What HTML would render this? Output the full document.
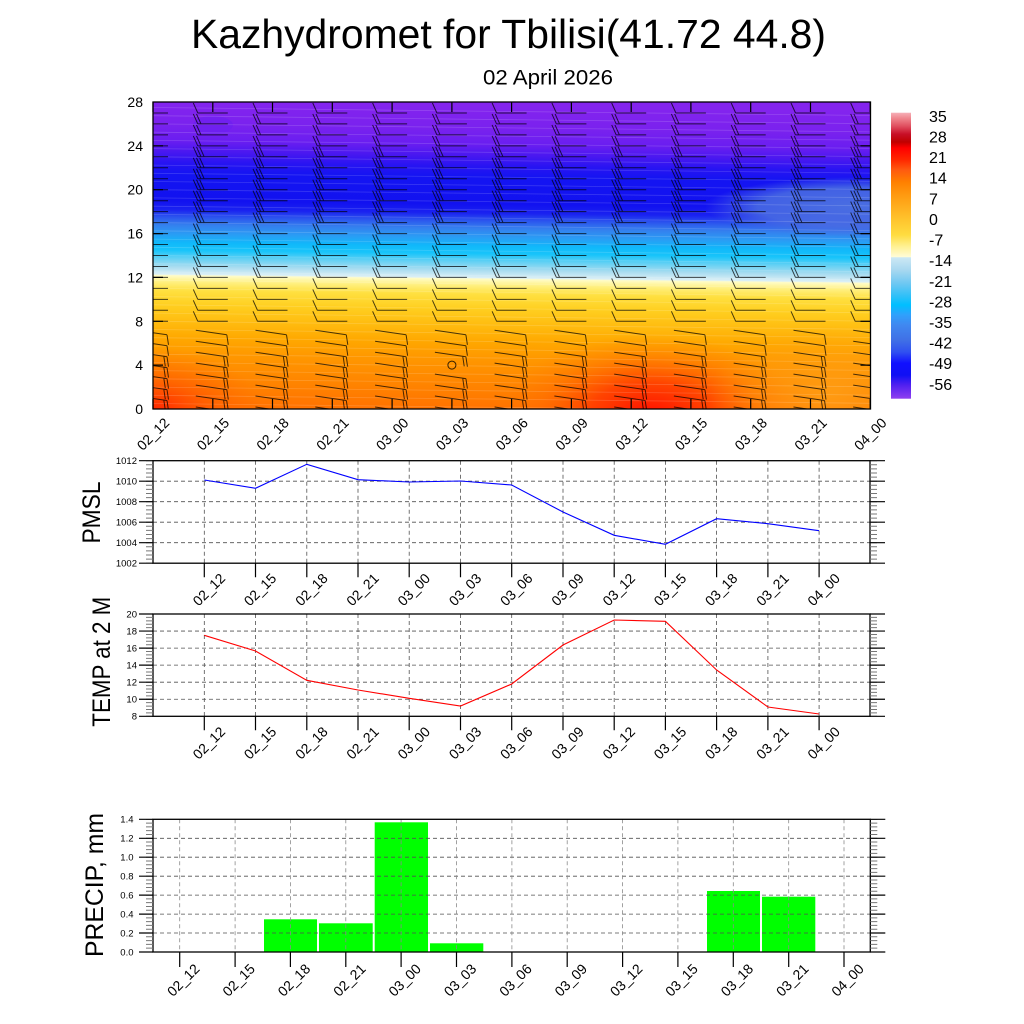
<!DOCTYPE html>
<html><head><meta charset="utf-8"><style>
html,body{margin:0;padding:0;background:#fff;}
svg{display:block;font-family:"Liberation Sans",Arial,sans-serif;}
.xl{font-size:14px;text-anchor:middle;fill:#000}
.yl{font-size:14px;text-anchor:end;fill:#000}
.sl{font-size:9.5px;text-anchor:end;fill:#000}
.cb{font-size:16px;fill:#000}
.grid{stroke:#505050;stroke-width:0.8;stroke-dasharray:4 3;fill:none}
.gridv{stroke:#8a8a8a;stroke-width:0.8;stroke-dasharray:4 3;fill:none}
.tk{stroke:#000;stroke-width:1.2;fill:none}
</style></head><body>
<svg width="1024" height="1024" viewBox="0 0 1024 1024" xmlns="http://www.w3.org/2000/svg">
<defs>
 <linearGradient id="fld" gradientUnits="userSpaceOnUse" x1="0" y1="102" x2="0" y2="409" gradientTransform="skewY(0.64) translate(0,-1.7)">
  <stop offset="0" stop-color="#8424ee"/>
  <stop offset="0.0714" stop-color="#7a22ee"/>
  <stop offset="0.125" stop-color="#6a1ef0"/>
  <stop offset="0.1607" stop-color="#4a18f0"/>
  <stop offset="0.1964" stop-color="#2814f2"/>
  <stop offset="0.2321" stop-color="#1414f2"/>
  <stop offset="0.3214" stop-color="#1212f0"/>
  <stop offset="0.35" stop-color="#1a22f0"/>
  <stop offset="0.3714" stop-color="#2a50ee"/>
  <stop offset="0.4" stop-color="#3480ee"/>
  <stop offset="0.4286" stop-color="#2a9cf4"/>
  <stop offset="0.4571" stop-color="#10b8fa"/>
  <stop offset="0.4821" stop-color="#18c4fa"/>
  <stop offset="0.5071" stop-color="#60d0f4"/>
  <stop offset="0.5357" stop-color="#a8dcf0"/>
  <stop offset="0.5607" stop-color="#dcf0f6"/>
  <stop offset="0.5643" stop-color="#fffcc8"/>
  <stop offset="0.5857" stop-color="#fff080"/>
  <stop offset="0.6143" stop-color="#ffe040"/>
  <stop offset="0.6607" stop-color="#ffcf20"/>
  <stop offset="0.7143" stop-color="#ffbc10"/>
  <stop offset="0.7679" stop-color="#ffa800"/>
  <stop offset="0.8214" stop-color="#ff9800"/>
  <stop offset="0.8929" stop-color="#ff8800"/>
  <stop offset="0.9464" stop-color="#ff7c00"/>
  <stop offset="1" stop-color="#ff7000"/>
 </linearGradient>
 <radialGradient id="red1">
  <stop offset="0" stop-color="#ff1000" stop-opacity="1"/>
  <stop offset="0.4" stop-color="#ff3000" stop-opacity="0.75"/>
  <stop offset="0.75" stop-color="#ff6000" stop-opacity="0.3"/>
  <stop offset="1" stop-color="#ff7000" stop-opacity="0"/>
 </radialGradient>
 <radialGradient id="red2">
  <stop offset="0" stop-color="#ff2000" stop-opacity="1"/>
  <stop offset="0.5" stop-color="#ff4a00" stop-opacity="0.5"/>
  <stop offset="1" stop-color="#ff6000" stop-opacity="0"/>
 </radialGradient>
 <radialGradient id="or1">
  <stop offset="0" stop-color="#ffa418" stop-opacity="0.75"/>
  <stop offset="1" stop-color="#ffa418" stop-opacity="0"/>
 </radialGradient>
 <radialGradient id="st1">
  <stop offset="0" stop-color="#4a6ee2" stop-opacity="1"/>
  <stop offset="0.65" stop-color="#4a6ee2" stop-opacity="0.85"/>
  <stop offset="1" stop-color="#4a6ee2" stop-opacity="0"/>
 </radialGradient>
 <linearGradient id="cbg" x1="0" y1="0" x2="0" y2="1">
  <stop offset="0" stop-color="#f6b0b8"/>
  <stop offset="0.0185" stop-color="#f08890"/>
  <stop offset="0.0465" stop-color="#e05060"/>
  <stop offset="0.0745" stop-color="#c81028"/>
  <stop offset="0.1024" stop-color="#c00000"/>
  <stop offset="0.1234" stop-color="#ff0000"/>
  <stop offset="0.1654" stop-color="#ff2800"/>
  <stop offset="0.2003" stop-color="#ff5a10"/>
  <stop offset="0.2423" stop-color="#ff8000"/>
  <stop offset="0.2878" stop-color="#ff9a10"/>
  <stop offset="0.3332" stop-color="#ffb020"/>
  <stop offset="0.3822" stop-color="#ffc830"/>
  <stop offset="0.4276" stop-color="#ffdc40"/>
  <stop offset="0.466" stop-color="#fff090"/>
  <stop offset="0.5045" stop-color="#fffcd8"/>
  <stop offset="0.5063" stop-color="#cce8f4"/>
  <stop offset="0.55" stop-color="#a8d8f0"/>
  <stop offset="0.5955" stop-color="#70c8f2"/>
  <stop offset="0.641" stop-color="#30c0f8"/>
  <stop offset="0.6724" stop-color="#00bfff"/>
  <stop offset="0.7073" stop-color="#30a0fc"/>
  <stop offset="0.7423" stop-color="#4088f0"/>
  <stop offset="0.7948" stop-color="#4070e6"/>
  <stop offset="0.8368" stop-color="#3050f0"/>
  <stop offset="0.8759" stop-color="#1010ff"/>
  <stop offset="0.9175" stop-color="#1010f4"/>
  <stop offset="0.9524" stop-color="#5020f0"/>
  <stop offset="1" stop-color="#9040f0"/>
 </linearGradient>
 <clipPath id="cp"><rect x="153" y="102" width="717.5" height="307"/></clipPath>
</defs>

<!-- Titles -->
<text x="191" y="48" font-size="41" textLength="635" lengthAdjust="spacingAndGlyphs">Kazhydromet for Tbilisi(41.72 44.8)</text>
<text x="483" y="84.3" font-size="21" textLength="130" lengthAdjust="spacingAndGlyphs">02 April 2026</text>

<!-- Top field panel -->
<g clip-path="url(#cp)">
 <rect x="153" y="102" width="717.5" height="307" fill="url(#fld)"/>
 <ellipse cx="650" cy="414" rx="150" ry="80" fill="url(#red1)"/>
 <ellipse cx="153" cy="412" rx="110" ry="65" fill="url(#red2)"/>
 <ellipse cx="830" cy="395" rx="120" ry="70" fill="url(#or1)"/>
 <ellipse cx="855" cy="207" rx="150" ry="30" fill="url(#st1)"/>
 <ellipse cx="213" cy="125" rx="20" ry="9" fill="#6a20f0" opacity="0.6"/>
 <g id="cont" stroke="#fff" stroke-opacity="0.16" stroke-width="0.8" fill="none"></g>
 <g id="barbs" stroke="#000" stroke-opacity="0.72" stroke-width="1" fill="none"></g>
 <circle cx="451.9" cy="365.1" r="4" stroke="#000" stroke-opacity="0.8" fill="none"/>
</g>
<rect x="153" y="102" width="717.5" height="307" fill="none" stroke="#000" stroke-width="1.3"/>
<path class="tk" d="M153 102v10M212.8 102v10M272.5 102v10M332.3 102v10M392.1 102v10M451.9 102v10M511.6 102v10M571.4 102v10M631.2 102v10M690.9 102v10M750.7 102v10M810.5 102v10M870.2 102v10
M153 409v-10M212.8 409v-10M272.5 409v-10M332.3 409v-10M392.1 409v-10M451.9 409v-10M511.6 409v-10M571.4 409v-10M631.2 409v-10M690.9 409v-10M750.7 409v-10M810.5 409v-10M870.2 409v-10
M153 365.1h10M153 321.3h10M153 277.4h10M153 233.6h10M153 189.7h10M153 145.9h10
M870.5 365.1h-10M870.5 321.3h-10M870.5 277.4h-10M870.5 233.6h-10M870.5 189.7h-10M870.5 145.9h-10"/>
<g class="yl">
 <text x="143" y="414">0</text>
 <text x="143" y="370.1">4</text>
 <text x="143" y="326.3">8</text>
 <text x="143" y="282.4">12</text>
 <text x="143" y="238.6">16</text>
 <text x="143" y="194.7">20</text>
 <text x="143" y="150.9">24</text>
 <text x="143" y="107">28</text>
</g>
<g class="xl">
 <text transform="translate(153,434) rotate(-45)" dy="5">02_12</text>
 <text transform="translate(212.8,434) rotate(-45)" dy="5">02_15</text>
 <text transform="translate(272.5,434) rotate(-45)" dy="5">02_18</text>
 <text transform="translate(332.3,434) rotate(-45)" dy="5">02_21</text>
 <text transform="translate(392.1,434) rotate(-45)" dy="5">03_00</text>
 <text transform="translate(451.9,434) rotate(-45)" dy="5">03_03</text>
 <text transform="translate(511.6,434) rotate(-45)" dy="5">03_06</text>
 <text transform="translate(571.4,434) rotate(-45)" dy="5">03_09</text>
 <text transform="translate(631.2,434) rotate(-45)" dy="5">03_12</text>
 <text transform="translate(690.9,434) rotate(-45)" dy="5">03_15</text>
 <text transform="translate(750.7,434) rotate(-45)" dy="5">03_18</text>
 <text transform="translate(810.5,434) rotate(-45)" dy="5">03_21</text>
 <text transform="translate(870.2,434) rotate(-45)" dy="5">04_00</text>
</g>

<!-- Colorbar -->
<rect x="891" y="112.7" width="20" height="286" fill="url(#cbg)"/>
<g class="cb">
 <text x="929" y="121.8">35</text>
 <text x="929" y="142.4">28</text>
 <text x="929" y="163">21</text>
 <text x="929" y="183.7">14</text>
 <text x="929" y="204.3">7</text>
 <text x="929" y="224.9">0</text>
 <text x="929" y="245.5">-7</text>
 <text x="929" y="266.1">-14</text>
 <text x="929" y="286.8">-21</text>
 <text x="929" y="307.4">-28</text>
 <text x="929" y="328">-35</text>
 <text x="929" y="348.6">-42</text>
 <text x="929" y="369.2">-49</text>
 <text x="929" y="389.8">-56</text>
</g>

<!-- PMSL panel -->
<path class="grid" d="M153 481.2H870M153 501.7H870M153 522.2H870M153 542.7H870
M204.3 460.7V563.2M255.5 460.7V563.2M306.8 460.7V563.2M358 460.7V563.2M409.2 460.7V563.2M460.5 460.7V563.2M511.7 460.7V563.2M563 460.7V563.2M614.2 460.7V563.2M665.4 460.7V563.2M716.6 460.7V563.2M767.9 460.7V563.2M819.1 460.7V563.2"/>
<polyline fill="none" stroke="#0000ff" stroke-width="1.1" points="204.3,480 255.5,488.3 306.8,464.3 358,479.7 409.2,482 460.5,481 511.7,485 563,512 614.2,535.3 665.4,544.3 716.6,518.7 767.9,523.7 819.1,530.7"/>
<rect x="153" y="460.7" width="717" height="102.5" fill="none" stroke="#000" stroke-width="1.3"/>
<line x1="149.5" y1="460.7" x2="149.5" y2="563.2" stroke="#777" stroke-width="7" stroke-dasharray="1 3.1" stroke-dashoffset="0.5"/>
<line x1="873.5" y1="460.7" x2="873.5" y2="563.2" stroke="#777" stroke-width="7" stroke-dasharray="1 3.1" stroke-dashoffset="0.5"/>
<path class="tk" d="M139 460.7h14M139 481.2h14M139 501.7h14M139 522.2h14M139 542.7h14M139 563.2h14
M870 460.7h15M870 481.2h15M870 501.7h15M870 522.2h15M870 542.7h15M870 563.2h15
M204.3 563.2v14M255.5 563.2v14M306.8 563.2v14M358 563.2v14M409.2 563.2v14M460.5 563.2v14M511.7 563.2v14M563 563.2v14M614.2 563.2v14M665.4 563.2v14M716.6 563.2v14M767.9 563.2v14M819.1 563.2v14"/>
<g class="sl">
 <text x="137" y="464">1012</text>
 <text x="137" y="484.5">1010</text>
 <text x="137" y="505">1008</text>
 <text x="137" y="525.5">1006</text>
 <text x="137" y="546">1004</text>
 <text x="137" y="566.5">1002</text>
</g>
<g class="xl">
 <text transform="translate(208.8,589.5) rotate(-45)" dy="5">02_12</text>
 <text transform="translate(260,589.5) rotate(-45)" dy="5">02_15</text>
 <text transform="translate(311.3,589.5) rotate(-45)" dy="5">02_18</text>
 <text transform="translate(362.5,589.5) rotate(-45)" dy="5">02_21</text>
 <text transform="translate(413.7,589.5) rotate(-45)" dy="5">03_00</text>
 <text transform="translate(465,589.5) rotate(-45)" dy="5">03_03</text>
 <text transform="translate(516.2,589.5) rotate(-45)" dy="5">03_06</text>
 <text transform="translate(567.5,589.5) rotate(-45)" dy="5">03_09</text>
 <text transform="translate(618.7,589.5) rotate(-45)" dy="5">03_12</text>
 <text transform="translate(669.9,589.5) rotate(-45)" dy="5">03_15</text>
 <text transform="translate(721.1,589.5) rotate(-45)" dy="5">03_18</text>
 <text transform="translate(772.4,589.5) rotate(-45)" dy="5">03_21</text>
 <text transform="translate(823.6,589.5) rotate(-45)" dy="5">04_00</text>
</g>
<text transform="translate(100,512.5) rotate(-90)" font-size="25" text-anchor="middle" textLength="62" lengthAdjust="spacingAndGlyphs">PMSL</text>

<!-- TEMP panel -->
<path class="grid" d="M153 631.05H870M153 648.1H870M153 665.15H870M153 682.2H870M153 699.25H870
M204.3 614V716.3M255.5 614V716.3M306.8 614V716.3M358 614V716.3M409.2 614V716.3M460.5 614V716.3M511.7 614V716.3M563 614V716.3M614.2 614V716.3M665.4 614V716.3M716.6 614V716.3M767.9 614V716.3M819.1 614V716.3"/>
<polyline fill="none" stroke="#ff0000" stroke-width="1.1" points="204.3,635.3 255.5,651 306.8,680.3 358,690 409.2,698.3 460.5,706 511.7,684 563,645 614.2,620 665.4,621.3 716.6,670 767.9,707 819.1,714"/>
<rect x="153" y="614" width="717" height="102.3" fill="none" stroke="#000" stroke-width="1.3"/>
<line x1="149.5" y1="614" x2="149.5" y2="716.3" stroke="#777" stroke-width="7" stroke-dasharray="1 2.41" stroke-dashoffset="0.5"/>
<line x1="873.5" y1="614" x2="873.5" y2="716.3" stroke="#777" stroke-width="7" stroke-dasharray="1 2.41" stroke-dashoffset="0.5"/>
<path class="tk" d="M139 614h14M139 631.05h14M139 648.1h14M139 665.15h14M139 682.2h14M139 699.25h14M139 716.3h14
M870 614h15M870 631.05h15M870 648.1h15M870 665.15h15M870 682.2h15M870 699.25h15M870 716.3h15
M204.3 716.3v14M255.5 716.3v14M306.8 716.3v14M358 716.3v14M409.2 716.3v14M460.5 716.3v14M511.7 716.3v14M563 716.3v14M614.2 716.3v14M665.4 716.3v14M716.6 716.3v14M767.9 716.3v14M819.1 716.3v14"/>
<g class="sl">
 <text x="137" y="617.3">20</text>
 <text x="137" y="634.3">18</text>
 <text x="137" y="651.4">16</text>
 <text x="137" y="668.4">14</text>
 <text x="137" y="685.5">12</text>
 <text x="137" y="702.5">10</text>
 <text x="137" y="719.6">8</text>
</g>
<g class="xl">
 <text transform="translate(208.8,742.8) rotate(-45)" dy="5">02_12</text>
 <text transform="translate(260,742.8) rotate(-45)" dy="5">02_15</text>
 <text transform="translate(311.3,742.8) rotate(-45)" dy="5">02_18</text>
 <text transform="translate(362.5,742.8) rotate(-45)" dy="5">02_21</text>
 <text transform="translate(413.7,742.8) rotate(-45)" dy="5">03_00</text>
 <text transform="translate(465,742.8) rotate(-45)" dy="5">03_03</text>
 <text transform="translate(516.2,742.8) rotate(-45)" dy="5">03_06</text>
 <text transform="translate(567.5,742.8) rotate(-45)" dy="5">03_09</text>
 <text transform="translate(618.7,742.8) rotate(-45)" dy="5">03_12</text>
 <text transform="translate(669.9,742.8) rotate(-45)" dy="5">03_15</text>
 <text transform="translate(721.1,742.8) rotate(-45)" dy="5">03_18</text>
 <text transform="translate(772.4,742.8) rotate(-45)" dy="5">03_21</text>
 <text transform="translate(823.6,742.8) rotate(-45)" dy="5">04_00</text>
</g>
<text transform="translate(110,661.7) rotate(-90)" font-size="25" text-anchor="middle" textLength="130" lengthAdjust="spacingAndGlyphs">TEMP at 2 M</text>

<!-- PRECIP panel -->
<g fill="#00ff00">
 <rect x="264" y="919.3" width="53" height="32.7"/>
 <rect x="319" y="923.3" width="53.7" height="28.7"/>
 <rect x="374.7" y="822.3" width="53.3" height="129.7"/>
 <rect x="430" y="943.3" width="53.3" height="8.7"/>
 <rect x="707" y="891" width="53" height="61"/>
 <rect x="762" y="896.7" width="53.3" height="55.3"/>
</g>
<path class="grid" d="M153 933H870M153 914.1H870M153 895.1H870M153 876.2H870M153 857.2H870M153 838.3H870"/>
<path class="gridv" d="M179.7 819.3V952M235.1 819.3V952M290.4 819.3V952M345.8 819.3V952M401.1 819.3V952M456.5 819.3V952M511.9 819.3V952M567.2 819.3V952M622.6 819.3V952M677.9 819.3V952M733.3 819.3V952M788.7 819.3V952M844 819.3V952"/>
<rect x="153" y="819.3" width="717.3" height="132.7" fill="none" stroke="#000" stroke-width="1.3"/>
<line x1="149.5" y1="819.3" x2="149.5" y2="952" stroke="#777" stroke-width="7" stroke-dasharray="1 2.79" stroke-dashoffset="0.5"/>
<line x1="873.8" y1="819.3" x2="873.8" y2="952" stroke="#777" stroke-width="7" stroke-dasharray="1 2.79" stroke-dashoffset="0.5"/>
<path class="tk" d="M139 952h14M139 933h14M139 914.1h14M139 895.1h14M139 876.2h14M139 857.2h14M139 838.3h14M139 819.3h14
M870.3 952h15M870.3 933h15M870.3 914.1h15M870.3 895.1h15M870.3 876.2h15M870.3 857.2h15M870.3 838.3h15M870.3 819.3h15
M179.7 952v15M235.1 952v15M290.4 952v15M345.8 952v15M401.1 952v15M456.5 952v15M511.9 952v15M567.2 952v15M622.6 952v15M677.9 952v15M733.3 952v15M788.7 952v15M844 952v15"/>
<g class="sl">
 <text x="133.5" y="955.3">0.0</text>
 <text x="133.5" y="936.3">0.2</text>
 <text x="133.5" y="917.4">0.4</text>
 <text x="133.5" y="898.4">0.6</text>
 <text x="133.5" y="879.5">0.8</text>
 <text x="133.5" y="860.5">1.0</text>
 <text x="133.5" y="841.6">1.2</text>
 <text x="133.5" y="822.6">1.4</text>
</g>
<g class="xl">
 <text transform="translate(183.2,980) rotate(-45)" dy="5">02_12</text>
 <text transform="translate(238.6,980) rotate(-45)" dy="5">02_15</text>
 <text transform="translate(293.9,980) rotate(-45)" dy="5">02_18</text>
 <text transform="translate(349.3,980) rotate(-45)" dy="5">02_21</text>
 <text transform="translate(404.6,980) rotate(-45)" dy="5">03_00</text>
 <text transform="translate(460,980) rotate(-45)" dy="5">03_03</text>
 <text transform="translate(515.4,980) rotate(-45)" dy="5">03_06</text>
 <text transform="translate(570.7,980) rotate(-45)" dy="5">03_09</text>
 <text transform="translate(626.1,980) rotate(-45)" dy="5">03_12</text>
 <text transform="translate(681.4,980) rotate(-45)" dy="5">03_15</text>
 <text transform="translate(736.8,980) rotate(-45)" dy="5">03_18</text>
 <text transform="translate(792.2,980) rotate(-45)" dy="5">03_21</text>
 <text transform="translate(847.5,980) rotate(-45)" dy="5">04_00</text>
</g>
<text transform="translate(103,885) rotate(-90)" font-size="25" text-anchor="middle" textLength="144" lengthAdjust="spacingAndGlyphs">PRECIP, mm</text>
</svg>
<script>
(function(){
 var ns="http://www.w3.org/2000/svg";
 var d="";
 function L(a,b,c,e){d+="M"+a.toFixed(1)+" "+b.toFixed(1)+"L"+c.toFixed(1)+" "+e.toFixed(1);}
 for(var i=0;i<13;i++){
  var x=153+i*59.77;
  for(var lev=0;lev<=28;lev++){
   var y=409-lev*10.964;
   if(i==5&&lev==4)continue;
   var nf,k,px,py,x0,x1,y0,y1;
   if(lev>=8){
    nf=(lev>=17&&lev<=23)?3:(((lev>=12&&lev<=16)||(lev>=24&&lev<=26))?2:1);
    x0=x-15;x1=x+15;L(x0,y,x1,y);
    for(k=0;k<nf;k++){px=x0+k*3.2;L(px,y,px-4.5,y-10);}
   }else{
    x0=x-17;y0=y-2;x1=x+14;y1=y+2.5;L(x0,y0,x1,y1);
    nf=lev<=5?2:1;
    for(k=0;k<nf;k++){px=x1-k*3.2;py=y1-k*0.4;L(px,py,px+1.5,py+10);}
   }
  }
 }
 var p=document.createElementNS(ns,"path");p.setAttribute("d",d);
 document.getElementById("barbs").appendChild(p);
 var c="";
 for(var lv=0.5;lv<28;lv+=0.75){var yy=409-lv*10.964;c+="M153 "+yy.toFixed(1)+"L871 "+(yy+8).toFixed(1);}
 var q=document.createElementNS(ns,"path");q.setAttribute("d",c);
 document.getElementById("cont").appendChild(q);
})();
</script>
</body></html>
